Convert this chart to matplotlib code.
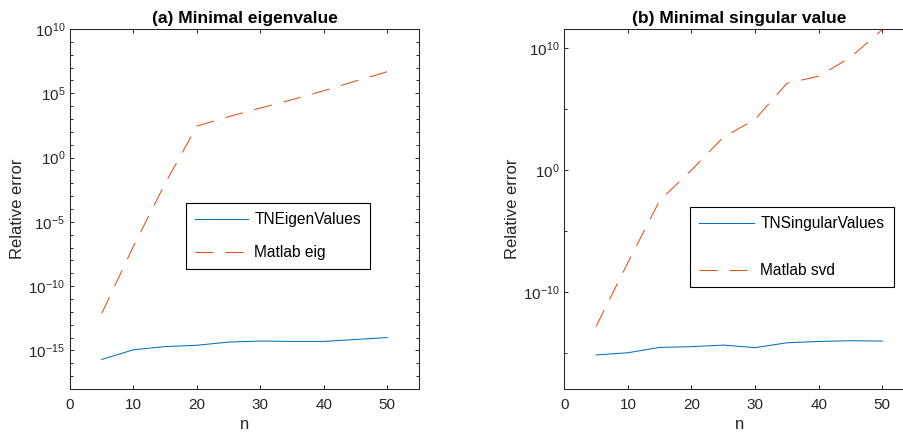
import numpy as np
import matplotlib
matplotlib.use('Agg')
import matplotlib.pyplot as plt
from matplotlib.ticker import LogLocator, FuncFormatter, NullFormatter, FixedLocator

plt.rcParams['font.family'] = ['Liberation Sans', 'DejaVu Sans']
plt.rcParams['mathtext.fontset'] = 'custom'
plt.rcParams['mathtext.rm'] = 'Liberation Sans'
plt.rcParams['mathtext.it'] = 'Liberation Sans:italic'
plt.rcParams['mathtext.bf'] = 'Liberation Sans:bold'

# data (log10 of relative error)
n = [5, 10, 15, 20, 25, 30, 35, 40, 45, 50]
tn_eig_log = [-15.7, -14.95, -14.7, -14.6, -14.35, -14.27, -14.3, -14.3, -14.15, -14.0]
matlab_eig_log = [-12.12, -6.9, -2.0, 2.45, 3.18, 3.85, 4.5, 5.2, 5.95, 6.68]
tn_svd_log = [-15.2, -15.02, -14.58, -14.52, -14.39, -14.6, -14.2, -14.09, -14.03, -14.06]
matlab_svd_log = [-12.85, -7.6, -2.5, 0.0, 2.7, 4.17, 7.13, 7.72, 9.27, 11.55]

tn_eig = 10.0 ** np.array(tn_eig_log)
matlab_eig = 10.0 ** np.array(matlab_eig_log)
tn_svd = 10.0 ** np.array(tn_svd_log)
matlab_svd = 10.0 ** np.array(matlab_svd_log)

blue = '#0072BD'
orange = '#D95319'
axcol = '#262626'

fig = plt.figure(figsize=(9.04, 4.34), dpi=100)
ax1 = fig.add_axes([70 / 904, 45 / 434, 349 / 904, 360 / 434])
ax2 = fig.add_axes([564.3 / 904, 45 / 434, 349.8 / 904, 360 / 434])

def sup(v, pos):
    e = int(round(np.log10(v)))
    return r'$\mathregular{10^{%d}}$' % e

def style(ax):
    ax.set_yscale('log')
    ax.set_xlim(0, 55)
    ax.xaxis.set_major_locator(FixedLocator([0, 10, 20, 30, 40, 50]))
    ax.yaxis.set_major_formatter(FuncFormatter(sup))
    ax.yaxis.set_minor_formatter(NullFormatter())
    ax.tick_params(which='both', direction='in', top=True, right=True,
                   colors=axcol, labelsize=11, width=0.7)
    ax.tick_params(which='major', length=3.0)
    ax.tick_params(which='minor', length=2.5)
    ax.tick_params(axis='x', pad=6.3)
    for s in ax.spines.values():
        s.set_color(axcol)
        s.set_linewidth(0.75)
    ax.set_xlabel('n', fontsize=12, color=axcol, labelpad=3.5)
    ax.set_ylabel('Relative error', fontsize=12, color=axcol)
    ax.yaxis.set_label_coords(-0.128, 0.5)

# (a)
ax1.plot(n, tn_eig, color=blue, lw=0.75, label='TNEigenValues')
ax1.plot(n, matlab_eig, color=orange, lw=0.75, dashes=(17.3, 11.5), label='Matlab eig')
style(ax1)
ax1.set_ylim(1e-18, 1e10)
ax1.yaxis.set_major_locator(LogLocator(base=1e5, numticks=20))
ax1.yaxis.set_minor_locator(LogLocator(base=10, subs=(1.0,), numticks=60))
ax1.set_title('(a) Minimal eigenvalue', fontsize=12.5, fontweight='bold', pad=4)
leg1 = ax1.legend(loc='upper left', bbox_to_anchor=(0.332, 0.517), fontsize=11.2,
                  fancybox=False, framealpha=1, edgecolor='black', handlelength=3.4,
                  handletextpad=0.4, borderpad=0.6, labelspacing=1.15, borderaxespad=0)
leg1.get_frame().set_linewidth(0.8)

# (b)
ax2.plot(n, tn_svd, color=blue, lw=0.75, label='TNSingularValues')
ax2.plot(n, matlab_svd, color=orange, lw=0.75, dashes=(17.3, 11.5), label='Matlab svd')
style(ax2)
ax2.set_ylim(1e-18, 10 ** 11.6)
ax2.yaxis.set_major_locator(LogLocator(base=1e10, numticks=20))
ax2.yaxis.set_minor_locator(LogLocator(base=1e5, numticks=20))
ax2.set_title('(b) Minimal singular value', fontsize=12.5, fontweight='bold', pad=4)
leg2 = ax2.legend(loc='upper left', bbox_to_anchor=(0.359, 0.506), fontsize=11.2,
                  fancybox=False, framealpha=1, edgecolor='black', handlelength=3.5,
                  handletextpad=0.42, borderpad=0.6, labelspacing=2.05, borderaxespad=0)
leg2.get_frame().set_linewidth(0.8)

fig.savefig('out.png', dpi=100)
